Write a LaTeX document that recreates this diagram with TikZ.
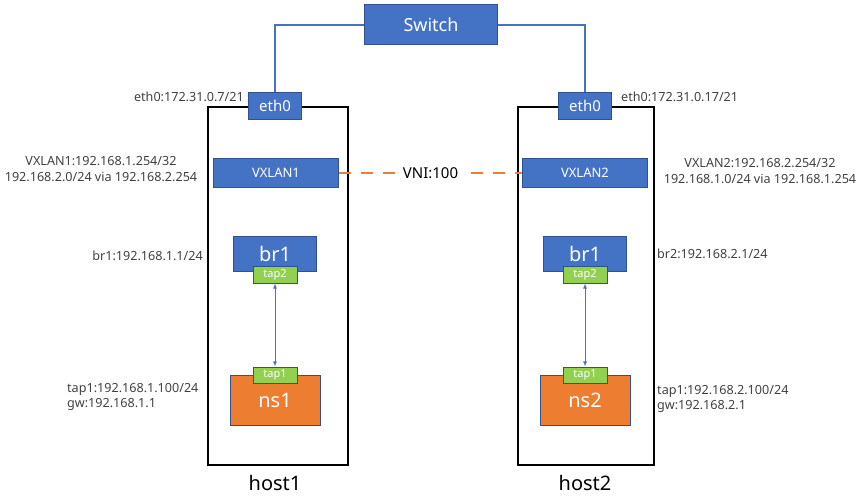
\documentclass[tikz,border=0pt]{standalone}
\usepackage{fontspec}
\setmainfont{Noto Sans}
\definecolor{boxblue}{HTML}{4472C4}
\definecolor{edgeblue}{HTML}{2F528F}
\definecolor{tapgreen}{HTML}{92D050}
\definecolor{nsorange}{HTML}{ED7D31}
\definecolor{labelgray}{HTML}{404040}
\begin{document}
\begin{tikzpicture}[x=1pt,y=-1pt,
  dev/.style={draw=edgeblue, fill=boxblue, text=white, inner sep=0pt, line width=1pt},
  tap/.style={draw=edgeblue, fill=tapgreen, text=white, inner sep=0pt, line width=1pt, minimum width=44, minimum height=16, font=\fontsize{11}{11}\selectfont},
  ns/.style={draw=edgeblue, fill=nsorange, text=white, inner sep=0pt, line width=1pt, minimum width=90, minimum height=50, font=\fontsize{20}{20}\selectfont},
  hostbox/.style={draw=black, line width=1.2pt, inner sep=0pt},
  info/.style={text=labelgray, inner sep=0pt, font=\fontsize{12.6}{15.5}\selectfont}]
\useasboundingbox (0,0) rectangle (865,497);

% hosts
\node [hostbox, minimum width=140, minimum height=358] (host1) at (278,286) {};
\node [hostbox, minimum width=136, minimum height=358] (host2) at (586,286) {};
\node [font=\fontsize{20}{20}\selectfont] (host1lbl) at (275,483) {host1};
\node [font=\fontsize{20}{20}\selectfont] (host2lbl) at (585,483) {host2};

% switch and uplinks
\node [dev, minimum width=133, minimum height=40, font=\fontsize{18}{18}\selectfont] (switch) at (431,25) {Switch};
\node [dev, minimum width=53, minimum height=27, font=\fontsize{15}{15}\selectfont] (eth0a) at (275,106) {eth0};
\node [dev, minimum width=53, minimum height=27, font=\fontsize{15}{15}\selectfont] (eth0b) at (585,106) {eth0};
\draw [boxblue, line width=1.3pt] (switch.west) -| (eth0a.north);
\draw [boxblue, line width=1.3pt] (switch.east) -| (eth0b.north);
\node [info, anchor=east] (eth0ainfo) at (244,97) {eth0:172.31.0.7/21};
\node [info, anchor=west] (eth0binfo) at (621,97) {eth0:172.31.0.17/21};

% vxlan
\node [dev, minimum width=125, minimum height=29, font=\fontsize{13}{13}\selectfont] (vxlan1) at (276,173) {VXLAN1};
\node [dev, minimum width=125, minimum height=29, font=\fontsize{13}{13}\selectfont] (vxlan2) at (585,173) {VXLAN2};
\draw [nsorange, line width=2pt, dash pattern=on 12pt off 10pt] (vxlan1.east) -- (vxlan2.west)
  node [pos=.5, fill=white, text=black, inner sep=4pt, font=\fontsize{15}{15}\selectfont] (vni) {VNI:100};
\node [info, align=center] (vxlan1info) at (101,169) {VXLAN1:192.168.1.254/32\\192.168.2.0/24 via 192.168.2.254};
\node [info, align=center] (vxlan2info) at (760,171) {VXLAN2:192.168.2.254/32\\192.168.1.0/24 via 192.168.1.254};

% bridges
\node [dev, minimum width=83, minimum height=35, font=\fontsize{20}{20}\selectfont] (br1a) at (275,254) {br1};
\node [dev, minimum width=83, minimum height=35, font=\fontsize{20}{20}\selectfont] (br1b) at (585,254) {br1};
\node [tap] (tap2a) at (275,275) {tap2};
\node [tap] (tap2b) at (585,275) {tap2};
\node [info, anchor=east] (br1info) at (203,256) {br1:192.168.1.1/24};
\node [info, anchor=west] (br2info) at (657,254) {br2:192.168.2.1/24};

% namespaces
\node [ns] (ns1) at (275,400) {ns1};
\node [ns] (ns2) at (585,400) {ns2};
\node [tap] (tap1a) at (275,375) {tap1};
\node [tap] (tap1b) at (585,375) {tap1};
\node [info, anchor=west, align=left] (ns1info) at (67,397) {tap1:192.168.1.100/24\\gw:192.168.1.1};
\node [info, anchor=west, align=left] (ns2info) at (657,399) {tap1:192.168.2.100/24\\gw:192.168.2.1};

\draw [latex-latex, boxblue, line width=.8pt] (tap2a) -- (tap1a);
\draw [latex-latex, boxblue, line width=.8pt] (tap2b) -- (tap1b);
\end{tikzpicture}
\end{document}
